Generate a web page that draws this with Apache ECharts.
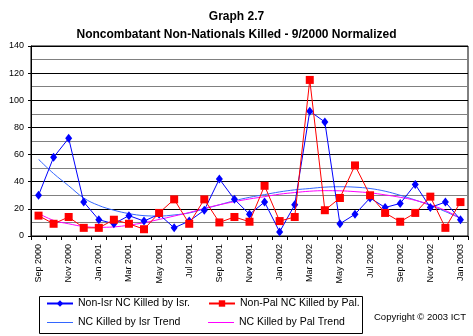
<!DOCTYPE html>
<html>
<head>
<meta charset="utf-8">
<script src="https://cdn.jsdelivr.net/npm/echarts@6/dist/echarts.min.js"></script>
<style>
html,body{margin:0;padding:0;background:#fff;}
#c{width:473px;height:336px;}
</style>
</head>
<body>
<div id="c"></div>
<script>
var categories = ['Sep 2000','Oct 2000','Nov 2000','Dec 2000','Jan 2001','Feb 2001','Mar 2001','Apr 2001','May 2001','Jun 2001','Jul 2001','Aug 2001','Sep 2001','Oct 2001','Nov 2001','Dec 2001','Jan 2002','Feb 2002','Mar 2002','Apr 2002','May 2002','Jun 2002','Jul 2002','Aug 2002','Sep 2002','Oct 2002','Nov 2002','Dec 2002','Jan 2003'];
var isrKilled = [30,58,72,25,12,9,15,11,16,6,11,19,42,27,16,25,3,23,92,84,9,16,28,21,24,38,21,25,12];
var palKilled = [15,9,14,6,6,12,9,5,17,27,9,27,10,14,10.5,37,11,14,115,19,28,52,30,17,10.5,17,29,6,25];
var isrTrend = [56.5,46,37,28,22.5,19,16.5,15,14.7,15.5,17,20,23,26,28.5,30.5,32.5,34,35,36,36.3,36,35,33,30,26.5,22.5,18,13];
var palTrend = [16.7,11.5,9,7,6.4,6.7,8,9.8,12.2,14.7,17.3,20.3,23,25.3,27.3,29,30.8,32,33,33.4,33.3,32.7,31.8,30.3,28.5,26.3,23,18.8,13];
var seriesNames = ['Non-Isr NC Killed by Isr.','Non-Pal NC Killed by Pal.','NC Killed by Isr Trend','NC Killed by Pal Trend'];

var FONT = '"Liberation Sans", Arial, sans-serif';
var lineIcon = 'path://M0,0L26,0L26,1L0,1Z';
var chart = echarts.init(document.getElementById('c'), null, {renderer:'canvas'});
chart.setOption({
  animation:false,
  backgroundColor:'#fff',
  textStyle:{fontFamily:FONT, color:'#000'},
  title:{
    text:'Graph 2.7\nNoncombatant Non-Nationals Killed - 9/2000 Normalized',
    left:'center', top:3,
    textStyle:{fontFamily:FONT, fontSize:12, fontWeight:'bold', color:'#000', lineHeight:18, align:'center'}
  },
  grid:{left:31, top:46, width:437, height:190, show:true, borderColor:'#000', borderWidth:1, backgroundColor:'transparent', containLabel:false},
  legend:{
    data:[
      {name:seriesNames[0]},
      {name:seriesNames[1]},
      {name:seriesNames[2], icon:lineIcon, itemStyle:{color:'#3366FF'}},
      {name:seriesNames[3], icon:lineIcon, itemStyle:{color:'#FF00FF'}}
    ],
    left:46, top:298, width:330, padding:0,
    orient:'horizontal',
    itemWidth:26, itemHeight:8, itemGap:8,
    textStyle:{fontFamily:FONT, fontSize:10.5, color:'#000', width:122, lineHeight:10}
  },
  xAxis:{
    type:'category', data:categories, boundaryGap:true,
    axisLine:{lineStyle:{color:'#000', width:1}},
    axisTick:{show:true, interval:0, length:4, lineStyle:{color:'#000'}},
    axisLabel:{interval:1, rotate:90, fontSize:9, margin:8, color:'#000', fontFamily:FONT},
    splitLine:{show:false}
  },
  yAxis:{
    type:'value', min:0, max:140, interval:20,
    axisLine:{show:true, lineStyle:{color:'#000', width:1}},
    axisTick:{show:true, length:3, lineStyle:{color:'#000'}},
    axisLabel:{fontSize:9, margin:7, color:'#000', fontFamily:FONT},
    splitLine:{show:true, lineStyle:{color:'#000', width:1}},
    minorTick:{show:false, splitNumber:2},
    minorSplitLine:{show:true, lineStyle:{color:'#808080', width:1}}
  },
  series:[
    {name:seriesNames[0], type:'line', data:isrKilled, symbol:'diamond', symbolSize:[7,9],
     itemStyle:{color:'#0000FF'}, lineStyle:{color:'#0000FF', width:1}, z:3},
    {name:seriesNames[1], type:'line', data:palKilled, symbol:'rect', symbolSize:8,
     itemStyle:{color:'#FF0000'}, lineStyle:{color:'#FF0000', width:1}, z:4},
    {name:seriesNames[2], type:'line', data:isrTrend, symbol:'none', smooth:0.4,
     itemStyle:{color:'#3366FF'}, lineStyle:{color:'#3366FF', width:1}, z:2},
    {name:seriesNames[3], type:'line', data:palTrend, symbol:'none', smooth:0.4,
     itemStyle:{color:'#FF00FF'}, lineStyle:{color:'#FF00FF', width:1}, z:2}
  ],
  graphic:[
    {type:'rect', left:37, top:294, shape:{width:323, height:37}, style:{fill:'none', stroke:'#000', lineWidth:1}, silent:true},
    {type:'text', left:374, top:312, style:{text:'Copyright \u00A9 2003 ICT', font:'9.5px "Liberation Sans", Arial, sans-serif', fill:'#000'}}
  ]
});
</script>
</body>
</html>
